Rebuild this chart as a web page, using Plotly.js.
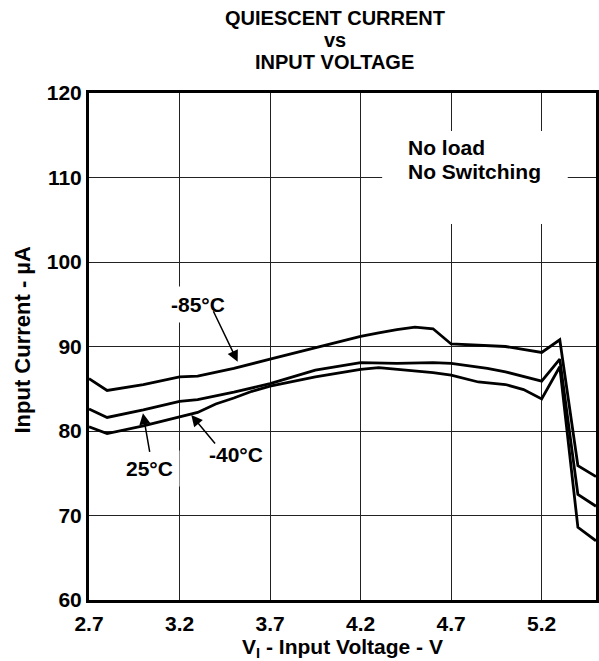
<!DOCTYPE html>
<html>
<head>
<meta charset="utf-8">
<script src="https://cdn.plot.ly/plotly-3.0.1.min.js"></script>
<style>html,body{margin:0;padding:0;background:#fff;}#chart{width:599px;height:661px;}</style>
</head>
<body>
<div id="chart"></div>
<script>
// Data
const seriesNames = ["-85°C", "25°C", "-40°C"];

const voltsM85 = [2.7, 2.8, 3.0, 3.2, 3.3, 3.5, 3.7, 3.9, 4.0, 4.2, 4.3, 4.4, 4.5, 4.6, 4.7, 4.9, 5.0, 5.2, 5.3, 5.4, 5.5];
const currM85  = [86.2, 84.8, 85.5, 86.4, 86.5, 87.4, 88.5, 89.6, 90.1, 91.2, 91.6, 92.0, 92.3, 92.1, 90.3, 90.1, 90.0, 89.3, 90.8, 75.9, 74.6];

const volts25 = [2.7, 2.8, 3.0, 3.2, 3.3, 3.5, 3.7, 3.95, 4.2, 4.4, 4.6, 4.7, 4.9, 5.0, 5.2, 5.3, 5.4, 5.5];
const curr25  = [82.6, 81.6, 82.5, 83.5, 83.7, 84.6, 85.6, 87.2, 88.1, 88.0, 88.1, 88.0, 87.4, 87.0, 85.9, 88.5, 72.5, 71.1];

const voltsM40 = [2.7, 2.8, 3.0, 3.2, 3.3, 3.4, 3.5, 3.6, 3.7, 3.95, 4.2, 4.3, 4.4, 4.6, 4.7, 4.85, 5.0, 5.1, 5.2, 5.3, 5.4, 5.5];
const currM40  = [80.5, 79.7, 80.6, 81.7, 82.2, 83.2, 83.9, 84.7, 85.3, 86.4, 87.3, 87.5, 87.3, 86.9, 86.6, 85.8, 85.5, 84.9, 83.8, 87.6, 68.6, 67.0];

const xTickVals = [2.7, 3.2, 3.7, 4.2, 4.7, 5.2];
const xTickText = ["2.7", "3.2", "3.7", "4.2", "4.7", "5.2"];
const yTickVals = [60, 70, 80, 90, 100, 110, 120];

const titleLines = ["QUIESCENT CURRENT", "vs", "INPUT VOLTAGE"];
const noteLines = ["No load", "No Switching"];
const yTitle = "Input Current - µA";

// label placements (data coords) and arrow tips
const labelText = ["-85°C", "25°C", "-40°C"];
const labelX = [3.30, 3.035, 3.513];
const labelY = [95.0, 75.6, 77.2];
const tipX = [3.521, 2.998, 3.265];
const tipY = [88.2, 82.1, 81.9];
const tailDX = [-25, 7, 25];
const tailDY = [-52, 40, 30];

const FONT = "Liberation Sans, Arial, Helvetica, sans-serif";

const traces = [
  {x: voltsM85, y: currM85, name: seriesNames[0]},
  {x: volts25, y: curr25, name: seriesNames[1]},
  {x: voltsM40, y: currM40, name: seriesNames[2]}
].map(t => Object.assign(t, {
  type: "scatter", mode: "lines",
  line: {color: "#000", width: 2.8},
  hoverinfo: "skip", showlegend: false
}));

const annotations = [];
// title, one annotation per line
const titleY = [1.1489, 1.1036, 1.0602];
for (let i = 0; i < titleLines.length; i++) {
  annotations.push({
    x: 0.485, y: titleY[i], xref: "paper", yref: "paper",
    xanchor: "center", yanchor: "middle",
    text: "<b>" + titleLines[i] + "</b>", showarrow: false,
    font: {family: FONT, size: 20, color: "#000"}
  });
}
// y axis title
annotations.push({
  x: -0.131, y: 0.513, xref: "paper", yref: "paper",
  xanchor: "center", yanchor: "middle", textangle: -90,
  text: "<b>" + yTitle + "</b>", showarrow: false,
  font: {family: FONT, size: 22, color: "#000"}
});
for (let i = 0; i < labelText.length; i++) {
  annotations.push({
    x: labelX[i], y: labelY[i], xref: "x", yref: "y",
    text: "<b>" + labelText[i] + "</b>", showarrow: false,
    font: {family: FONT, size: 21, color: "#000"},
    bgcolor: "#fff", borderpad: 6
  });
}
for (let i = 0; i < labelText.length; i++) {
  annotations.push({
    x: tipX[i], y: tipY[i], xref: "x", yref: "y",
    text: "", showarrow: true,
    ax: tailDX[i], ay: tailDY[i], axref: "pixel", ayref: "pixel",
    arrowhead: 2, arrowsize: 1.5, arrowwidth: 1.5, arrowcolor: "#000",
    standoff: 0
  });
}
const noteY = [113.5, 110.7];
for (let i = 0; i < noteLines.length; i++) {
  annotations.push({
    x: 4.45, y: noteY[i], xref: "x", yref: "y",
    text: "<b>" + noteLines[i] + "</b>", showarrow: false,
    font: {family: FONT, size: 21, color: "#000"},
    xanchor: "left", yanchor: "middle"
  });
}

const layout = {
  width: 599, height: 661,
  margin: {l: 89, r: 3, t: 93, b: 61},
  paper_bgcolor: "#fff", plot_bgcolor: "#fff",
  font: {family: FONT, color: "#000"},
  xaxis: {
    range: [2.7, 5.5], tickvals: xTickVals, ticktext: xTickText,
    showgrid: true, gridcolor: "#222", gridwidth: 1,
    showline: true, linecolor: "#000", linewidth: 3, mirror: true,
    ticks: "", zeroline: false, ticklabelstandoff: 3,
    tickfont: {family: FONT, size: 21, color: "#000", weight: "bold"},
    title: {text: "<b>V<sub>I</sub> - Input Voltage - V</b>", font: {family: FONT, size: 21, color: "#000"}, standoff: 8}
  },
  yaxis: {
    range: [60, 120], tickvals: yTickVals,
    showgrid: true, gridcolor: "#222", gridwidth: 1,
    showline: true, linecolor: "#000", linewidth: 3, mirror: true,
    ticks: "", zeroline: false,
    tickfont: {family: FONT, size: 21, color: "#000", weight: "bold"}
  },
  shapes: [{
    type: "rect", xref: "x", yref: "y", layer: "between",
    x0: 4.319, x1: 5.344, y0: 104.5, y1: 115.5,
    fillcolor: "#fff", line: {width: 0}
  }],
  annotations: annotations
};

Plotly.newPlot("chart", traces, layout, {displayModeBar: false, staticPlot: true});
</script>
</body>
</html>
